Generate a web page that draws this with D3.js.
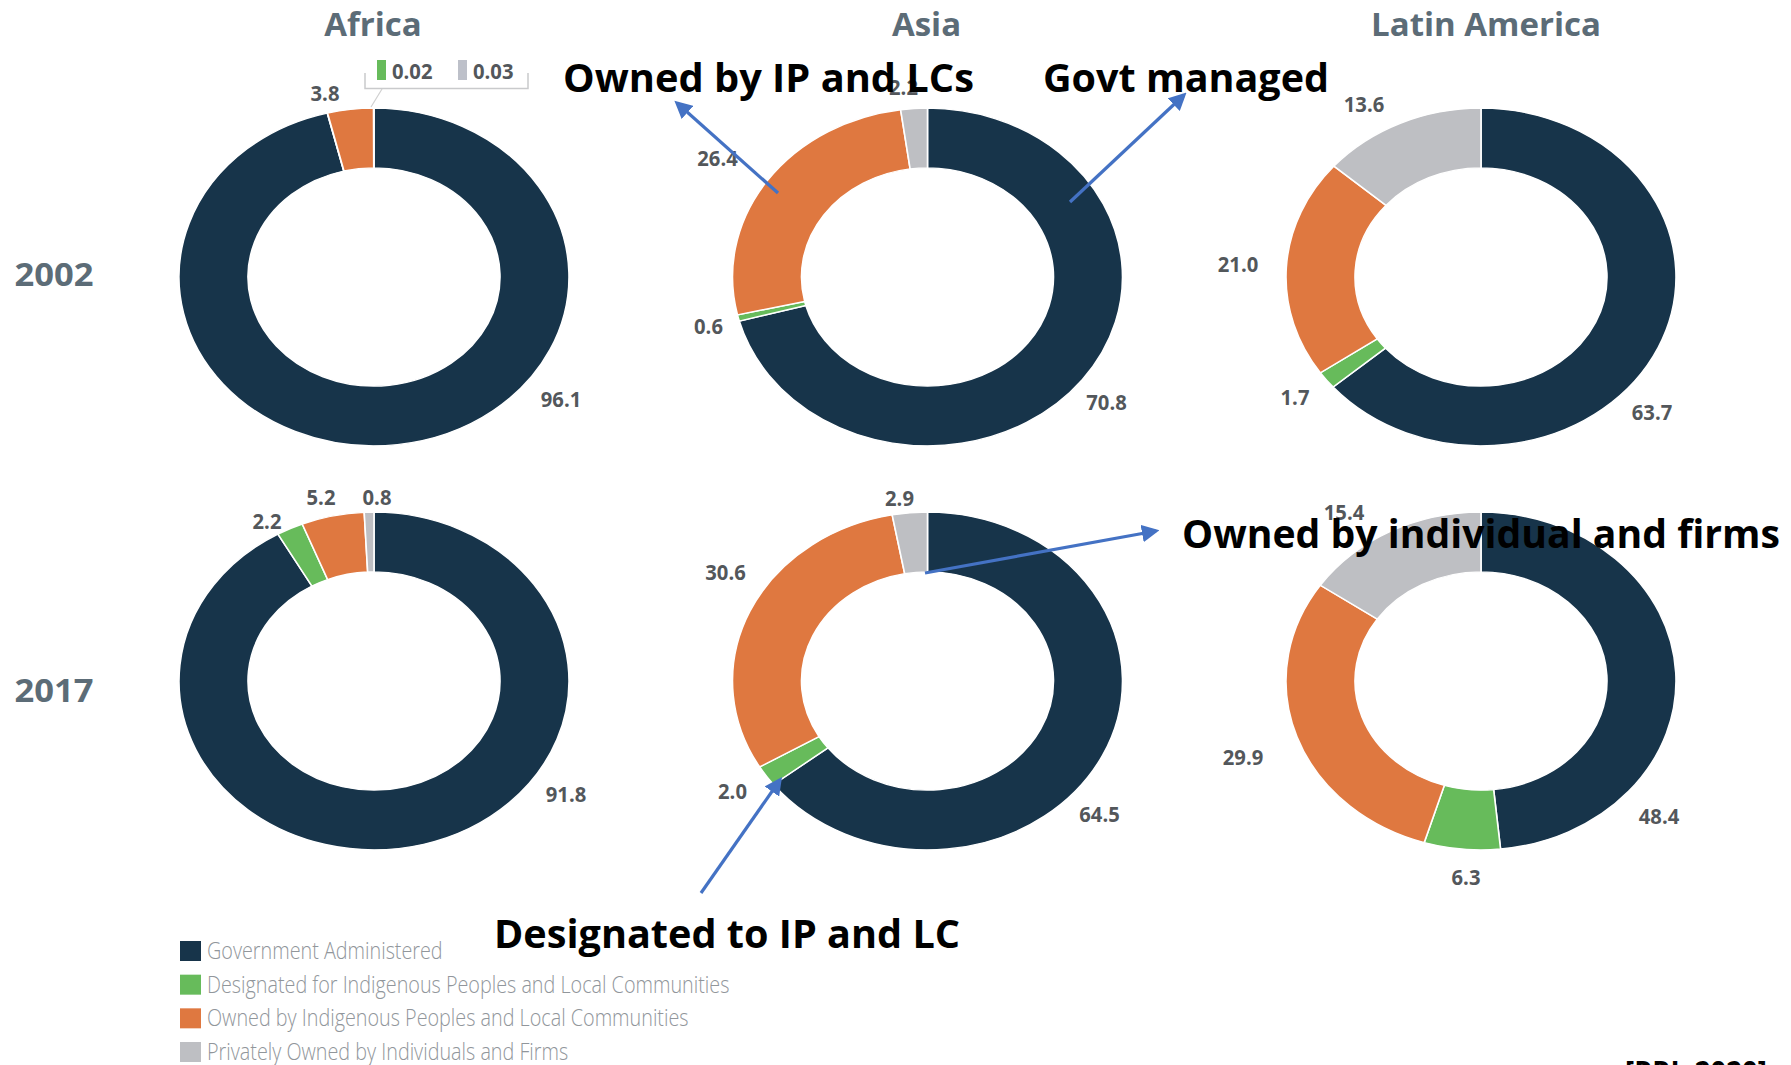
<!DOCTYPE html>
<html>
<head>
<meta charset="utf-8">
<script src="https://cdn.jsdelivr.net/npm/d3@7"></script>
<style>
  html, body { margin: 0; padding: 0; background: #ffffff; }
  svg { display: block; }
</style>
</head>
<body>
<svg id="chart" width="1791" height="1065"></svg>
<script>
// ---- data -------------------------------------------------------------
const regions = ["Africa", "Asia", "Latin America"];
const years = ["2002", "2017"];
const tenureTypes = [
  "Government Administered",
  "Designated for Indigenous Peoples and Local Communities",
  "Owned by Indigenous Peoples and Local Communities",
  "Privately Owned by Individuals and Firms"
];
// share of forest area (%), one row per region, in tenureTypes order
const shares2002 = [
  [96.1, 0.02, 3.8, 0.03],
  [70.8, 0.6, 26.4, 2.2],
  [63.7, 1.7, 21.0, 13.6]
];
const shares2017 = [
  [91.8, 2.2, 5.2, 0.8],
  [64.5, 2.0, 30.6, 2.9],
  [48.4, 6.3, 29.9, 15.4]
];
// tiny Africa 2002 slices shown in a separate callout
const africaSmallLabels = ["0.02", "0.03"];
const annotationTexts = [
  "Owned by IP and LCs",
  "Govt managed",
  "Owned by individual and firms",
  "Designated to IP and LC"
];
const sourceNote = "[RRI, 2020]";

// ---- layout -----------------------------------------------------------
const W = 1791, H = 1065;
const colors = ["#17344a", "#67bb5b", "#df7840", "#bebfc3"];
const svg = d3.select("#chart");

const xCol = d3.scalePoint().domain(regions).range([374, 1481]);
const yRow = d3.scalePoint().domain(years).range([277, 681]);
const yYearLabel = d3.scalePoint().domain(years).range([286, 702]);
const outerR = 195, innerR = 126, squash = 0.866;

// label offsets from donut centre [dx, dy] (null = not labelled on ring)
const labelOffsets = {
  "2002": [
    [[187, 122], null, [-49, -184], null],
    [[179, 125], [-219, 49], [-210, -119], [-24, -190]],
    [[171, 135], [-186, 120], [-243, -13], [-117, -173]]
  ],
  "2017": [
    [[192, 113], [-107, -160], [-53, -184], [3, -184]],
    [[172, 133], [-195, 110], [-202, -109], [-28, -183]],
    [[178, 135], [-15, 196], [-238, 76], [-137, -169]]
  ]
};

const pie = d3.pie().sort(null).value(d => d);
const arc = d3.arc().innerRadius(innerR).outerRadius(outerR);
const fmt = d3.format(".1f");

const titleColor = "#5c6c77";
const labelColor = "#53575b";

// region titles
svg.selectAll("text.region")
  .data(regions)
  .join("text")
  .attr("class", "region")
  .attr("x", d => xCol(d) + (d === "Latin America" ? 5 : -1))
  .attr("y", 36)
  .attr("text-anchor", "middle")
  .attr("font-family", "'Open Sans', sans-serif")
  .attr("font-weight", 700)
  .attr("font-size", 33)
  .attr("fill", titleColor)
  .text(d => d);

// year labels
svg.selectAll("text.year")
  .data(years)
  .join("text")
  .attr("class", "year")
  .attr("transform", d => `translate(54,${yYearLabel(d)}) scale(1.08,1)`)
  .attr("text-anchor", "middle")
  .attr("font-family", "'Open Sans', sans-serif")
  .attr("font-weight", 700)
  .attr("font-size", 32)
  .attr("fill", titleColor)
  .text(d => d);

// donuts
const datasets = { "2002": shares2002, "2017": shares2017 };
years.forEach(yr => {
  regions.forEach((reg, ri) => {
    const vals = datasets[yr][ri];
    const cx = xCol(reg), cy = yRow(yr);
    const g = svg.append("g").attr("transform", `translate(${cx},${cy})`);
    const ring = g.append("g").attr("transform", `scale(1,${squash})`);
    const arcs = pie(vals);
    ring.selectAll("path")
      .data(arcs)
      .join("path")
      .attr("d", arc)
      .attr("fill", (d, i) => colors[i])
      .attr("stroke", "#ffffff")
      .attr("stroke-width", 1.6);

    const offs = labelOffsets[yr][ri];
    g.selectAll("text")
      .data(arcs.filter((d, i) => offs[i]))
      .join("text")
      .attr("transform", d => {
        const o = offs[d.index];
        return `translate(${o[0]},${o[1]}) scale(0.92,1)`;
      })
      .attr("dy", "0.36em")
      .attr("text-anchor", "middle")
      .attr("font-family", "'Open Sans', sans-serif")
      .attr("font-weight", 700)
      .attr("font-size", 22)
      .attr("fill", labelColor)
      .text(d => fmt(d.data));
  });
});

// callout for the two tiny Africa 2002 slices
(function () {
  const g = svg.append("g");
  g.append("path")
    .attr("d", "M365,73 V88.5 H528 V73")
    .attr("fill", "none").attr("stroke", "#c9cacc").attr("stroke-width", 1.5);
  g.append("line")
    .attr("x1", 382).attr("y1", 89).attr("x2", 371).attr("y2", 107)
    .attr("stroke", "#d0d0d0").attr("stroke-width", 1.2);
  const items = [
    { c: colors[1], x: 377, label: africaSmallLabels[0] },
    { c: "#bdc0c9", x: 458, label: africaSmallLabels[1] }
  ];
  items.forEach(it => {
    g.append("rect").attr("x", it.x).attr("y", 60).attr("width", 9).attr("height", 20)
      .attr("fill", it.c);
    g.append("text")
      .attr("transform", `translate(${it.x + 15},79) scale(0.92,1)`)
      .attr("font-family", "'Open Sans', sans-serif")
      .attr("font-weight", 700)
      .attr("font-size", 22)
      .attr("fill", labelColor)
      .text(it.label);
  });
})();

// legend
const legendY = d3.scalePoint().domain(tenureTypes).range([951, 1052]);
const legend = svg.append("g");
legend.selectAll("rect")
  .data(tenureTypes)
  .join("rect")
  .attr("x", 180)
  .attr("y", d => legendY(d) - 10)
  .attr("width", 21)
  .attr("height", 20)
  .attr("fill", (d, i) => colors[i]);
legend.selectAll("text")
  .data(tenureTypes)
  .join("text")
  .attr("transform", d => `translate(207,${legendY(d) + 8}) scale(0.86,1)`)
  .attr("font-family", "'Open Sans', sans-serif")
  .attr("font-weight", 300)
  .attr("font-size", 23)
  .attr("fill", "#91969b")
  .text(d => d);

// annotations with arrows
const defs = svg.append("defs");
defs.append("marker")
  .attr("id", "arrowhead")
  .attr("viewBox", "0 0 10 10")
  .attr("refX", 8).attr("refY", 5)
  .attr("markerWidth", 5.5).attr("markerHeight", 5.5)
  .attr("orient", "auto")
  .append("path")
  .attr("d", "M0,0 L10,5 L0,10 z")
  .attr("fill", "#4472c4");

const annotations = [
  { text: annotationTexts[0], x: 563, y: 92, len: 411, from: [778, 193], to: [677, 103] },
  { text: annotationTexts[1], x: 1043, y: 92, len: 286, from: [1070, 202], to: [1184, 95] },
  { text: annotationTexts[2], x: 1182, y: 548, len: 598, from: [925, 573], to: [1156, 531] },
  { text: annotationTexts[3], x: 494, y: 948, len: 466, from: [701, 893], to: [780, 780] }
];
const ann = svg.append("g");
ann.selectAll("line")
  .data(annotations)
  .join("line")
  .attr("x1", d => d.from[0]).attr("y1", d => d.from[1])
  .attr("x2", d => d.to[0]).attr("y2", d => d.to[1])
  .attr("stroke", "#4472c4")
  .attr("stroke-width", 3.2)
  .attr("marker-end", "url(#arrowhead)");
ann.selectAll("text")
  .data(annotations)
  .join("text")
  .attr("x", d => d.x)
  .attr("y", d => d.y)
  .attr("textLength", d => d.len)
  .attr("lengthAdjust", "spacingAndGlyphs")
  .attr("font-family", "'Open Sans', sans-serif")
  .attr("font-weight", 700)
  .attr("font-size", 39)
  .attr("fill", "#000000")
  .text(d => d.text);

// source note, running off the bottom edge
svg.append("text")
  .attr("x", 1625)
  .attr("y", 1083)
  .attr("textLength", 142)
  .attr("lengthAdjust", "spacingAndGlyphs")
  .attr("font-family", "'Open Sans', sans-serif")
  .attr("font-weight", 700)
  .attr("font-size", 31)
  .attr("fill", "#000000")
  .text(sourceNote);
</script>
</body>
</html>
